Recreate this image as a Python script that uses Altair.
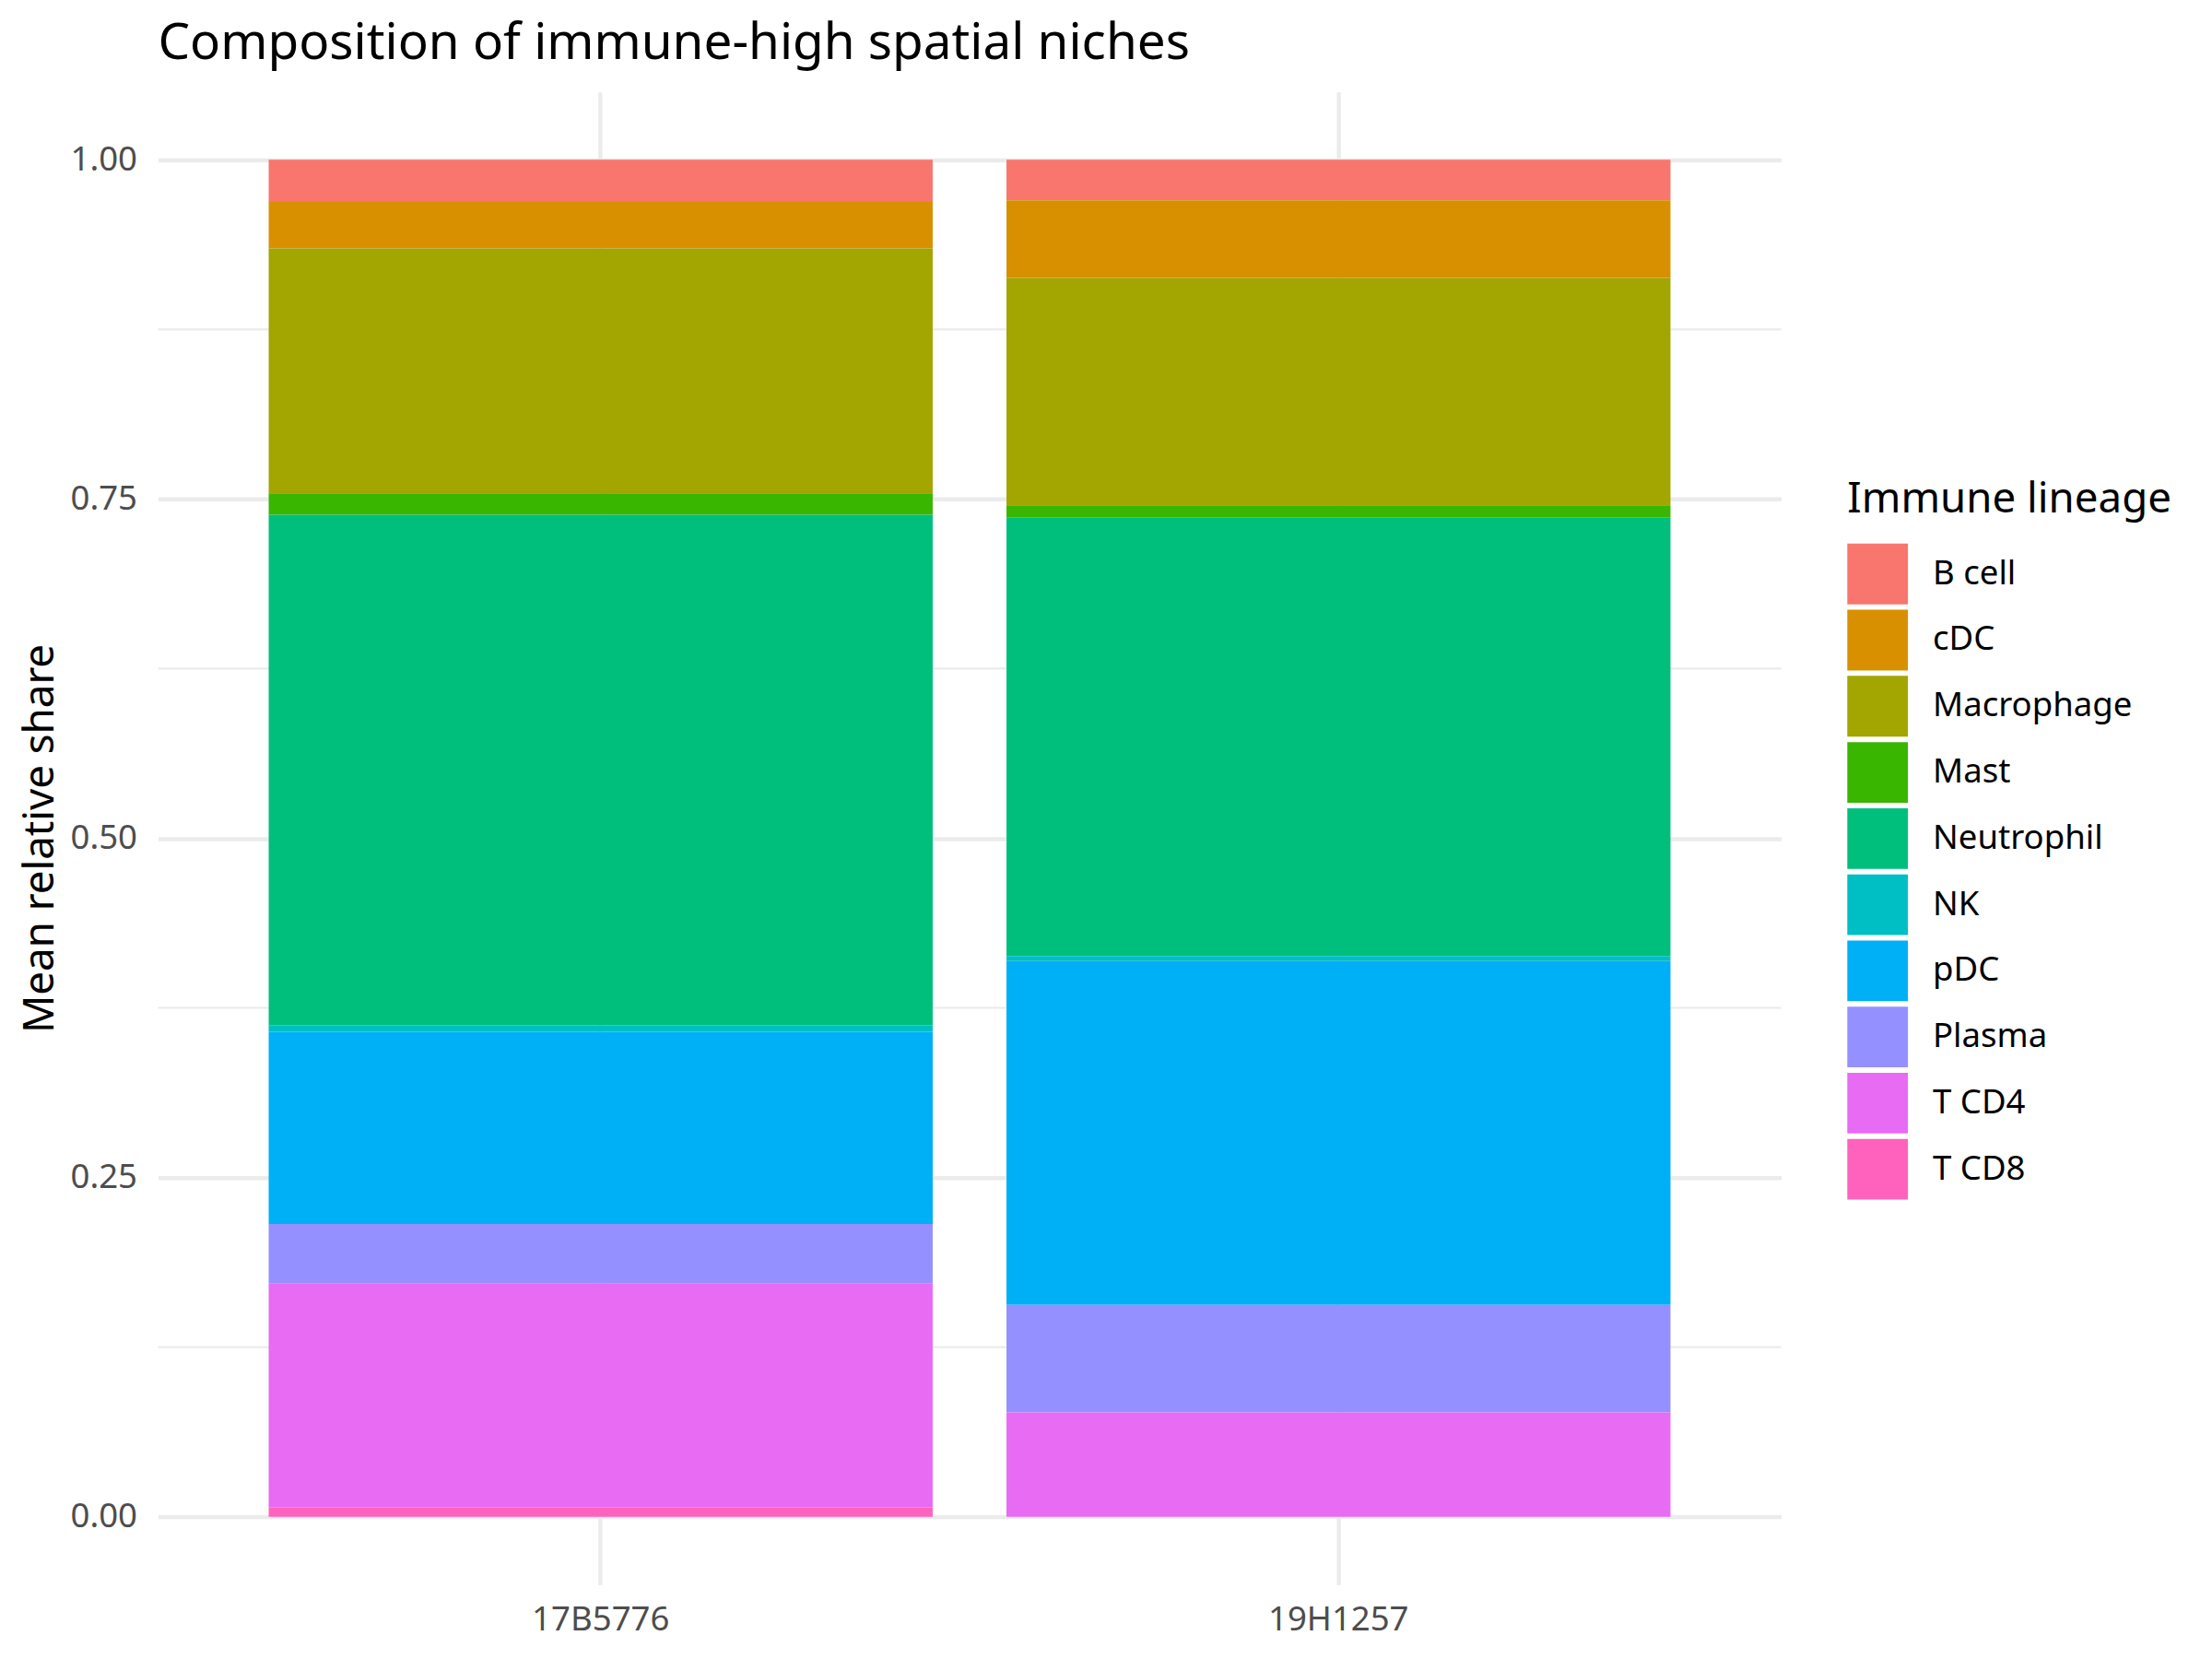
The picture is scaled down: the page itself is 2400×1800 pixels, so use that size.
import altair as alt
import pandas as pd

samples = ["17B5776", "19H1257"]
lineages = ["B cell", "cDC", "Macrophage", "Mast", "Neutrophil", "NK", "pDC", "Plasma", "T CD4", "T CD8"]
colors = ["#F8766D", "#D89000", "#A3A500", "#39B600", "#00BF7D", "#00BFC4", "#00B0F6", "#9590FF", "#E76BF3", "#FF62BC"]
share_17B5776 = [0.0311, 0.0343, 0.1805, 0.0157, 0.3761, 0.0049, 0.1416, 0.0441, 0.1650, 0.0067]
share_19H1257 = [0.0298, 0.0573, 0.1676, 0.0088, 0.3232, 0.0039, 0.2533, 0.0793, 0.0768, 0.0000]
y_major = [0.0, 0.25, 0.5, 0.75, 1.0]
y_minor = [0.125, 0.375, 0.625, 0.875]

rows = []
for s, vals in zip(samples, [share_17B5776, share_19H1257]):
    for i, (lin, v) in enumerate(zip(lineages, vals)):
        rows.append({"sample": s, "lineage": lin, "share": v, "idx": i})
df = pd.DataFrame(rows)
minor_df = pd.DataFrame({"y": y_minor})

FONT = "Noto Sans"
yscale = alt.Scale(domain=[-0.05, 1.05], nice=False, zero=False)
yaxis = alt.Axis(title="Mean relative share", values=y_major, format=".2f",
                 grid=True, labelPadding=23, titlePadding=9,
                 titleFontSize=45.8, titleFontWeight="normal", titleColor="black",
                 labelColor="#4D4D4D", labelFontSize=36.7, labelFont=FONT, titleFont=FONT)

minor = alt.Chart(minor_df).mark_rule(color="#EBEBEB", strokeWidth=2.2).encode(
    y=alt.Y("y:Q", scale=yscale, axis=yaxis, title="Mean relative share")
)

bars = alt.Chart(df).mark_bar(stroke=None).encode(
    x=alt.X("sample:N", sort=samples,
            scale=alt.Scale(paddingInner=0.1, paddingOuter=0.15),
            axis=alt.Axis(title=None, grid=True, bandPosition=0.5, labelAngle=0,
                          labelPadding=20, labelColor="#4D4D4D",
                          labelFontSize=36.7, labelFont=FONT)),
    y=alt.Y("share:Q", stack="zero", scale=yscale, axis=yaxis, title="Mean relative share"),
    color=alt.Color("lineage:N", scale=alt.Scale(domain=lineages, range=colors),
                    legend=alt.Legend(title="Immune lineage", orient="none",
                                      legendX=1839, legendY=422,
                                      symbolType="square", symbolSize=4356,
                                      symbolStrokeWidth=0, rowPadding=6,
                                      labelOffset=27, titlePadding=24,
                                      titleFontSize=45.8, titleFontWeight="normal",
                                      titleColor="black", labelFontSize=36.7,
                                      labelColor="black", labelFont=FONT, titleFont=FONT,
                                      labelLimit=800, titleLimit=800)),
    order=alt.Order("idx:Q", sort="descending"),
)

chart = alt.layer(minor, bars).properties(
    width=1767, height=1625,
    background="white",
    autosize=alt.AutoSizeParams(type="none"),
    padding={"left": 164, "top": 89, "right": 461, "bottom": 78},
    title=alt.TitleParams("Composition of immune-high spatial niches", anchor="start",
                          frame="group", fontSize=55, font=FONT, fontWeight="normal",
                          color="black", baseline="bottom", offset=0, dy=31),
).configure_view(stroke=None).configure_axis(
    domain=False, ticks=False, gridColor="#EBEBEB", gridWidth=4.4,
    labelFont=FONT, titleFont=FONT, labelFontSize=36.7,
)

chart.save("out.html", embed_options={"renderer": "svg", "actions": False})
